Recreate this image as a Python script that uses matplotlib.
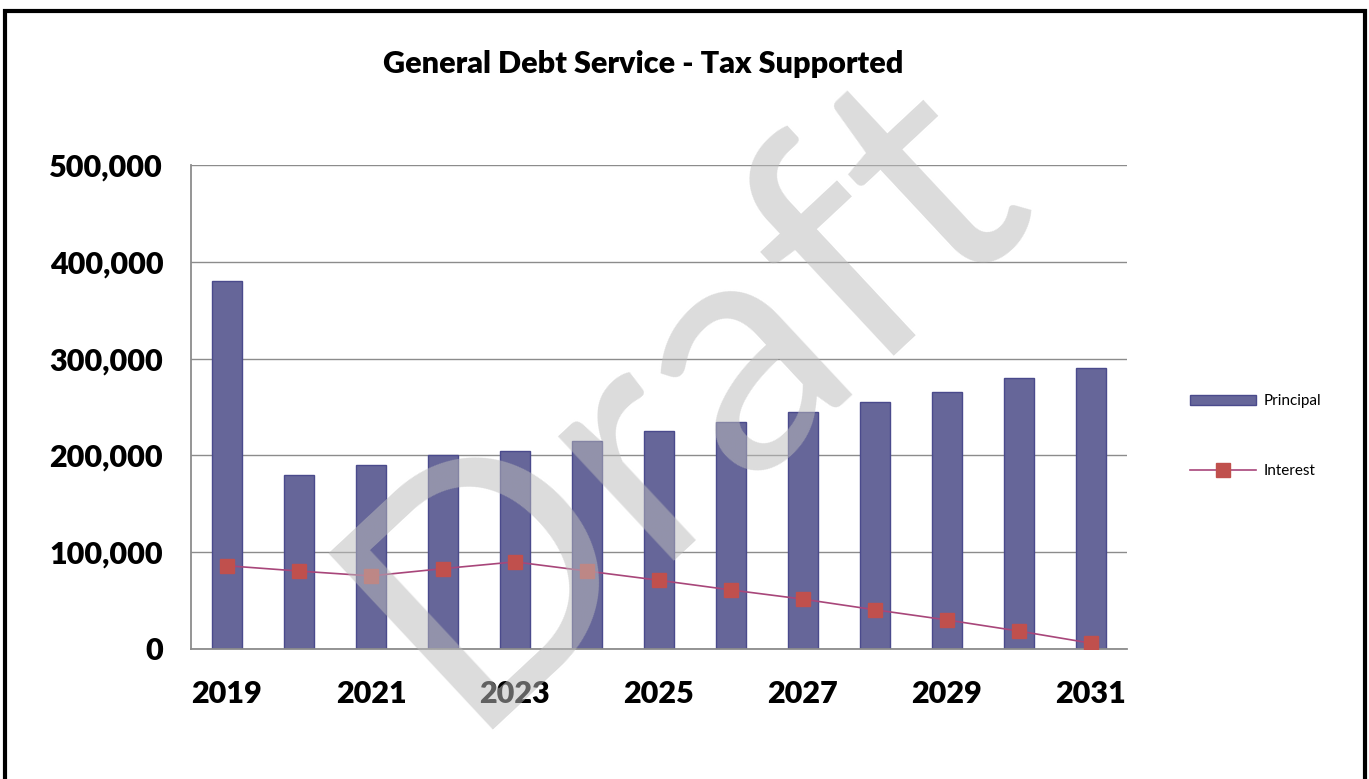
import matplotlib
matplotlib.use("Agg")
import matplotlib.pyplot as plt
from matplotlib.patches import Rectangle
import numpy as np

plt.rcParams["font.family"] = ["Lato", "DejaVu Sans"]

years = [2019, 2020, 2021, 2022, 2023, 2024, 2025, 2026, 2027, 2028, 2029, 2030, 2031]
principal = [380000, 180000, 190000, 200000, 205000, 215000, 225000, 235000,
             245000, 255000, 265000, 280000, 290000]
interest = [86000, 80500, 75500, 83000, 90000, 80500, 71000, 61000,
            51500, 40500, 30000, 18500, 6000]
y_ticks = [0, 100000, 200000, 300000, 400000, 500000]

fig = plt.figure(figsize=(13.69, 7.79), dpi=100)
ax = fig.add_axes([0.1395, 0.1669, 0.6837, 0.6213])

x = np.arange(len(years))
bars = ax.bar(x, principal, width=0.41, color="#666699", edgecolor="#4a4a8c",
              linewidth=1, label="Principal", zorder=2)
line, = ax.plot(x, interest, color="#a8467a", linewidth=1.2, marker="s",
                markersize=10, markerfacecolor="#c0504d", markeredgecolor="#c0504d",
                label="Interest", zorder=3)

ax.set_xlim(-0.5, len(years) - 0.5)
ax.set_ylim(0, 500000)
ax.set_yticks(y_ticks)
ax.set_yticklabels([f"{v:,}" for v in y_ticks], fontsize=22, fontweight="heavy")
ax.set_xticks(x[::2])
ax.set_xticklabels([str(y) for y in years[::2]], fontsize=22, fontweight="heavy")
ax.tick_params(length=0)
ax.tick_params(axis="x", pad=22)
ax.tick_params(axis="y", pad=20)
ax.grid(axis="y", color="#8c8c8c", linewidth=1, zorder=0)
for s in ["top", "right"]:
    ax.spines[s].set_visible(False)
for s in ["left", "bottom"]:
    ax.spines[s].set_color("#8c8c8c")
    ax.spines[s].set_linewidth(1.3)

fig.text(0.470, 0.918, "General Debt Service - Tax Supported", ha="center",
         va="center", fontsize=22, fontweight="heavy")

ax.legend([bars, line], ["Principal", "Interest"], loc="center left",
          bbox_to_anchor=(1.053, 0.44), frameon=False, handletextpad=0.5,
          fontsize=11, handlelength=4.3, labelspacing=3.65, handleheight=0.6)

# watermark
fig.text(0.500, 0.495, "Draft", rotation=43, ha="center", va="center",
         rotation_mode="anchor", fontsize=242, color="#bcbcbc", alpha=0.52,
         zorder=10)

# outer border
fig.patches.append(Rectangle((5 / 1369, -0.05), 1360 / 1369, 1 - 11 / 779 + 0.05,
                             transform=fig.transFigure, fill=False,
                             edgecolor="black", linewidth=3))

fig.savefig("out.png", dpi=100)
